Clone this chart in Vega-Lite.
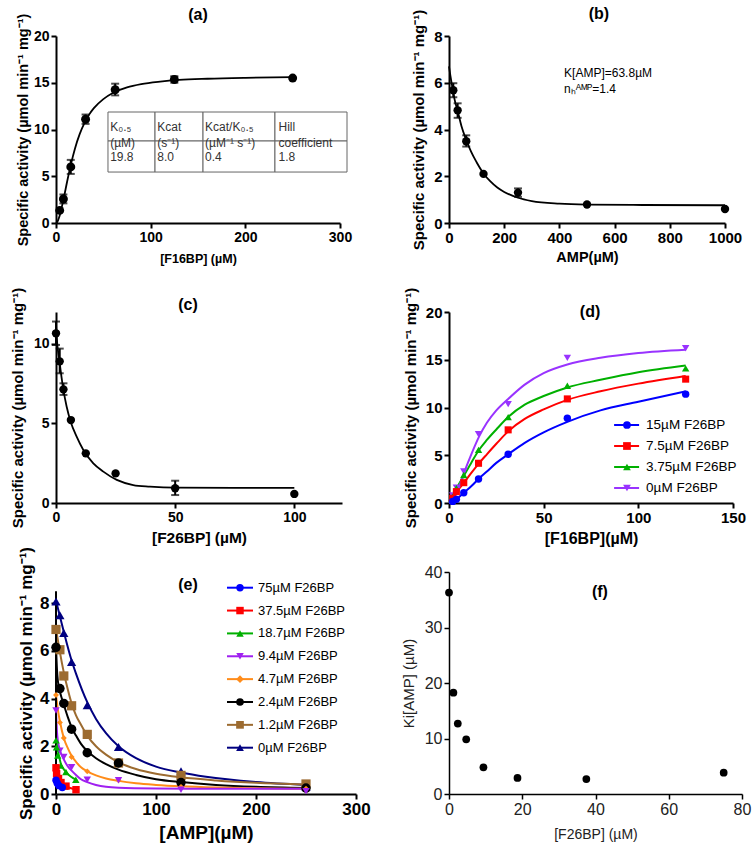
{
  "$schema": "https://vega.github.io/schema/vega-lite/v6.json",
  "autosize": {"type": "none"},
  "padding": {"left": 0, "top": 0, "right": 752, "bottom": 847},
  "background": "white",
  "config": {
    "view": {"stroke": null},
    "font": "Liberation Sans",
    "axis": {"grid": false, "domainColor": "black", "domainWidth": 2, "tickColor": "black", "tickWidth": 2, "tickSize": 5,
      "labelFont": "Liberation Sans", "labelFontWeight": "bold", "labelFontSize": 14, "labelColor": "black", "labelPadding": 2,
      "labelFlush": false, "labelOverlap": false,
      "titleFont": "Liberation Sans", "titleFontWeight": "bold", "titleFontSize": 14, "titleColor": "black", "titlePadding": 6}
  },
  "resolve": {
    "scale": {"color": "independent", "fill": "independent", "stroke": "independent", "shape": "independent", "size": "independent"},
    "legend": {"color": "independent", "fill": "independent", "stroke": "independent", "shape": "independent", "size": "independent"}
  },
  "datasets": {
    "one": [{"k": 1}],
    "a_curve": [{"x":0,"y":0},{"x":1,"y":0.07},{"x":4,"y":0.84},{"x":8,"y":2.57},{"x":12,"y":4.55},{"x":16,"y":6.38},{"x":20,"y":7.95},{"x":25,"y":9.5},{"x":30,"y":10.68},{"x":35,"y":11.59},{"x":40,"y":12.28},{"x":50,"y":13.25},{"x":60,"y":13.9},{"x":75,"y":14.5},{"x":90,"y":14.85},{"x":110,"y":15.12},{"x":130,"y":15.3},{"x":160,"y":15.43},{"x":200,"y":15.53},{"x":250,"y":15.6}],
    "a_pts": [{"x":3.9,"y":1.35},{"x":7.8,"y":2.57},{"x":15.6,"y":6.0},{"x":31.25,"y":11.1},{"x":62.5,"y":14.25},{"x":125,"y":15.35},{"x":250,"y":15.5}],
    "a_err": [{"x":7.8,"lo":2.1,"hi":3.05},{"x":15.6,"lo":5.25,"hi":6.75},{"x":31.25,"lo":10.6,"hi":11.6},{"x":62.5,"lo":13.65,"hi":14.9},{"x":125,"lo":15.0,"hi":15.7}],
    "a_cells": [{"x0":54.9,"x1":104.6,"y0":8.77,"y1":11.87},{"x0":104.6,"x1":155.3,"y0":8.77,"y1":11.87},{"x0":155.3,"x1":231.3,"y0":8.77,"y1":11.87},{"x0":231.3,"x1":307.4,"y0":8.77,"y1":11.87},
      {"x0":54.9,"x1":104.6,"y0":5.45,"y1":8.77},{"x0":104.6,"x1":155.3,"y0":5.45,"y1":8.77},{"x0":155.3,"x1":231.3,"y0":5.45,"y1":8.77},{"x0":231.3,"x1":307.4,"y0":5.45,"y1":8.77}],
    "a_text": [{"x":57.2,"y":10.32,"t":"K₀.₅\n(µM)"},{"x":107,"y":10.32,"t":"Kcat\n(s⁻¹)"},{"x":157.5,"y":10.32,"t":"Kcat/K₀.₅\n(µM⁻¹ s⁻¹)"},{"x":235,"y":10.32,"t":"Hill\ncoefficient"},
      {"x":57.2,"y":7.06,"t":"19.8"},{"x":107,"y":7.06,"t":"8.0"},{"x":157.5,"y":7.06,"t":"0.4"},{"x":235,"y":7.06,"t":"1.8"}],
    "b_curve": [{"x":0,"y":6.7},{"x":5,"y":6.3},{"x":10,"y":5.95},{"x":15.6,"y":5.6},{"x":20,"y":5.3},{"x":31.25,"y":4.8},{"x":45,"y":4.15},{"x":62.5,"y":3.55},{"x":80,"y":3.05},{"x":100,"y":2.6},{"x":125,"y":2.12},{"x":150,"y":1.78},{"x":175,"y":1.52},{"x":200,"y":1.33},{"x":250,"y":1.08},{"x":300,"y":0.94},{"x":400,"y":0.83},{"x":500,"y":0.79},{"x":700,"y":0.77},{"x":1000,"y":0.76}],
    "b_pts": [{"x":15.6,"y":5.68},{"x":31.25,"y":4.82},{"x":62.5,"y":3.5},{"x":125,"y":2.1},{"x":250,"y":1.3},{"x":500,"y":0.79},{"x":1000,"y":0.6}],
    "b_err": [{"x":15.6,"lo":5.38,"hi":5.98},{"x":31.25,"lo":4.5,"hi":5.12},{"x":62.5,"lo":3.27,"hi":3.75},{"x":250,"lo":1.12,"hi":1.48}],
    "b_text": [{"x":417,"y":6.42,"t":"K[AMP]=63.8µM"},{"x":417,"y":5.73,"t":"nₕᴬᴹᴾ=1.4"}],
    "c_curve": [{"x":0,"y":11.25},{"x":0.28,"y":10.45},{"x":1.4,"y":8.98},{"x":3.08,"y":7.14},{"x":4.48,"y":6.05},{"x":6.15,"y":5.11},{"x":8.67,"y":4.17},{"x":11.47,"y":3.33},{"x":15.66,"y":2.49},{"x":19.86,"y":1.97},{"x":25.5,"y":1.45},{"x":32.4,"y":1.13},{"x":39.4,"y":1.03},{"x":50,"y":0.96},{"x":75,"y":0.95},{"x":100,"y":0.95}],
    "c_pts": [{"x":0,"y":10.66},{"x":1.56,"y":8.9},{"x":3.125,"y":7.14},{"x":6.25,"y":5.21},{"x":12.5,"y":3.12},{"x":25,"y":1.86},{"x":50,"y":0.93},{"x":100,"y":0.57}],
    "c_err": [{"x":0,"lo":9.93,"hi":11.4},{"x":1.56,"lo":8.15,"hi":9.7},{"x":3.125,"lo":6.79,"hi":7.52},{"x":50,"lo":0.5,"hi":1.4}],
    "d_leg": [{"s":"15µM F26BP"},{"s":"7.5µM F26BP"},{"s":"3.75µM F26BP"},{"s":"0µM F26BP"}],
    "d_curve": [
      {"s":"15µM F26BP","x":0,"y":0},{"s":"15µM F26BP","x":2,"y":0.1},{"s":"15µM F26BP","x":4,"y":0.4},{"s":"15µM F26BP","x":8,"y":1.1},{"s":"15µM F26BP","x":12,"y":1.8},{"s":"15µM F26BP","x":16,"y":2.6},{"s":"15µM F26BP","x":20,"y":3.3},{"s":"15µM F26BP","x":25,"y":4.2},{"s":"15µM F26BP","x":31.25,"y":5.1},{"s":"15µM F26BP","x":40,"y":6.3},{"s":"15µM F26BP","x":50,"y":7.4},{"s":"15µM F26BP","x":62.5,"y":8.5},{"s":"15µM F26BP","x":80,"y":9.7},{"s":"15µM F26BP","x":100,"y":10.6},{"s":"15µM F26BP","x":125,"y":11.7},
      {"s":"7.5µM F26BP","x":0,"y":0.2},{"s":"7.5µM F26BP","x":2,"y":0.55},{"s":"7.5µM F26BP","x":4,"y":1.15},{"s":"7.5µM F26BP","x":8,"y":2.15},{"s":"7.5µM F26BP","x":12,"y":3.2},{"s":"7.5µM F26BP","x":16,"y":4.2},{"s":"7.5µM F26BP","x":20,"y":5.1},{"s":"7.5µM F26BP","x":25,"y":6.2},{"s":"7.5µM F26BP","x":31.25,"y":7.5},{"s":"7.5µM F26BP","x":40,"y":8.8},{"s":"7.5µM F26BP","x":50,"y":9.8},{"s":"7.5µM F26BP","x":62.5,"y":10.8},{"s":"7.5µM F26BP","x":80,"y":11.7},{"s":"7.5µM F26BP","x":100,"y":12.5},{"s":"7.5µM F26BP","x":125,"y":13.3},
      {"s":"3.75µM F26BP","x":0,"y":0},{"s":"3.75µM F26BP","x":2,"y":0.5},{"s":"3.75µM F26BP","x":4,"y":1.5},{"s":"3.75µM F26BP","x":8,"y":2.9},{"s":"3.75µM F26BP","x":12,"y":4.3},{"s":"3.75µM F26BP","x":16,"y":5.6},{"s":"3.75µM F26BP","x":20,"y":6.6},{"s":"3.75µM F26BP","x":25,"y":7.7},{"s":"3.75µM F26BP","x":31.25,"y":9.0},{"s":"3.75µM F26BP","x":40,"y":10.3},{"s":"3.75µM F26BP","x":50,"y":11.2},{"s":"3.75µM F26BP","x":62.5,"y":12.1},{"s":"3.75µM F26BP","x":80,"y":12.9},{"s":"3.75µM F26BP","x":100,"y":13.7},{"s":"3.75µM F26BP","x":125,"y":14.4},
      {"s":"0µM F26BP","x":0,"y":0},{"s":"0µM F26BP","x":4,"y":1.0},{"s":"0µM F26BP","x":8,"y":3.2},{"s":"0µM F26BP","x":12,"y":5.2},{"s":"0µM F26BP","x":16,"y":7.0},{"s":"0µM F26BP","x":20,"y":8.4},{"s":"0µM F26BP","x":25,"y":9.7},{"s":"0µM F26BP","x":31.25,"y":10.9},{"s":"0µM F26BP","x":40,"y":12.4},{"s":"0µM F26BP","x":50,"y":13.6},{"s":"0µM F26BP","x":62.5,"y":14.5},{"s":"0µM F26BP","x":80,"y":15.2},{"s":"0µM F26BP","x":100,"y":15.7},{"s":"0µM F26BP","x":125,"y":16.05}],
    "d_pts": [
      {"s":"15µM F26BP","x":1.95,"y":0.17},{"s":"15µM F26BP","x":3.9,"y":0.38},{"s":"15µM F26BP","x":7.8,"y":1.08},{"s":"15µM F26BP","x":15.6,"y":2.52},{"s":"15µM F26BP","x":31.25,"y":5.1},{"s":"15µM F26BP","x":62.5,"y":8.88},{"s":"15µM F26BP","x":125,"y":11.4},
      {"s":"7.5µM F26BP","x":1.95,"y":0.49},{"s":"7.5µM F26BP","x":3.9,"y":1.19},{"s":"7.5µM F26BP","x":7.8,"y":2.13},{"s":"7.5µM F26BP","x":15.6,"y":4.16},{"s":"7.5µM F26BP","x":31.25,"y":7.66},{"s":"7.5µM F26BP","x":62.5,"y":10.9},{"s":"7.5µM F26BP","x":125,"y":12.97},
      {"s":"3.75µM F26BP","x":1.95,"y":0.66},{"s":"3.75µM F26BP","x":3.9,"y":1.54},{"s":"3.75µM F26BP","x":7.8,"y":2.94},{"s":"3.75µM F26BP","x":15.6,"y":5.56},{"s":"3.75µM F26BP","x":31.25,"y":8.99},{"s":"3.75µM F26BP","x":62.5,"y":12.27},{"s":"3.75µM F26BP","x":125,"y":14.1},
      {"s":"0µM F26BP","x":1.95,"y":0.8},{"s":"0µM F26BP","x":3.9,"y":1.6},{"s":"0µM F26BP","x":7.8,"y":3.3},{"s":"0µM F26BP","x":15.6,"y":7.2},{"s":"0µM F26BP","x":31.25,"y":10.35},{"s":"0µM F26BP","x":62.5,"y":15.2},{"s":"0µM F26BP","x":125,"y":16.2}],
    "e_leg": [{"s":"75µM F26BP"},{"s":"37.5µM F26BP"},{"s":"18.7µM F26BP"},{"s":"9.4µM F26BP"},{"s":"4.7µM F26BP"},{"s":"2.4µM F26BP"},{"s":"1.2µM F26BP"},{"s":"0µM F26BP"}],
    "e_curve": [
      {"s":"0µM F26BP","x":0,"y":8.1},{"s":"0µM F26BP","x":3.9,"y":7.45},{"s":"0µM F26BP","x":7.8,"y":6.8},{"s":"0µM F26BP","x":15.6,"y":5.6},{"s":"0µM F26BP","x":20,"y":5.05},{"s":"0µM F26BP","x":31.25,"y":3.85},{"s":"0µM F26BP","x":40,"y":3.15},{"s":"0µM F26BP","x":50,"y":2.55},{"s":"0µM F26BP","x":62.5,"y":2.0},{"s":"0µM F26BP","x":80,"y":1.5},{"s":"0µM F26BP","x":100,"y":1.15},{"s":"0µM F26BP","x":125,"y":0.9},{"s":"0µM F26BP","x":150,"y":0.72},{"s":"0µM F26BP","x":200,"y":0.5},{"s":"0µM F26BP","x":250,"y":0.38},
      {"s":"1.2µM F26BP","x":0,"y":6.95},{"s":"1.2µM F26BP","x":3.9,"y":5.95},{"s":"1.2µM F26BP","x":7.8,"y":5.1},{"s":"1.2µM F26BP","x":12,"y":4.35},{"s":"1.2µM F26BP","x":15.6,"y":3.8},{"s":"1.2µM F26BP","x":20,"y":3.3},{"s":"1.2µM F26BP","x":25,"y":2.9},{"s":"1.2µM F26BP","x":31.25,"y":2.45},{"s":"1.2µM F26BP","x":40,"y":2.0},{"s":"1.2µM F26BP","x":50,"y":1.65},{"s":"1.2µM F26BP","x":62.5,"y":1.33},{"s":"1.2µM F26BP","x":80,"y":1.05},{"s":"1.2µM F26BP","x":100,"y":0.85},{"s":"1.2µM F26BP","x":125,"y":0.7},{"s":"1.2µM F26BP","x":160,"y":0.57},{"s":"1.2µM F26BP","x":200,"y":0.47},{"s":"1.2µM F26BP","x":250,"y":0.4},
      {"s":"2.4µM F26BP","x":0,"y":6.2},{"s":"2.4µM F26BP","x":1,"y":5.2},{"s":"2.4µM F26BP","x":2,"y":4.7},{"s":"2.4µM F26BP","x":3.9,"y":4.3},{"s":"2.4µM F26BP","x":7.8,"y":3.75},{"s":"2.4µM F26BP","x":12,"y":3.2},{"s":"2.4µM F26BP","x":15.6,"y":2.8},{"s":"2.4µM F26BP","x":20,"y":2.45},{"s":"2.4µM F26BP","x":25,"y":2.1},{"s":"2.4µM F26BP","x":31.25,"y":1.8},{"s":"2.4µM F26BP","x":40,"y":1.5},{"s":"2.4µM F26BP","x":50,"y":1.25},{"s":"2.4µM F26BP","x":62.5,"y":1.02},{"s":"2.4µM F26BP","x":80,"y":0.8},{"s":"2.4µM F26BP","x":100,"y":0.62},{"s":"2.4µM F26BP","x":125,"y":0.5},{"s":"2.4µM F26BP","x":160,"y":0.38},{"s":"2.4µM F26BP","x":200,"y":0.3},{"s":"2.4µM F26BP","x":250,"y":0.25},
      {"s":"4.7µM F26BP","x":0,"y":4.15},{"s":"4.7µM F26BP","x":2,"y":3.5},{"s":"4.7µM F26BP","x":3.9,"y":3.05},{"s":"4.7µM F26BP","x":7.8,"y":2.35},{"s":"4.7µM F26BP","x":12,"y":1.9},{"s":"4.7µM F26BP","x":15.6,"y":1.6},{"s":"4.7µM F26BP","x":20,"y":1.35},{"s":"4.7µM F26BP","x":25,"y":1.12},{"s":"4.7µM F26BP","x":31.25,"y":0.95},{"s":"4.7µM F26BP","x":40,"y":0.78},{"s":"4.7µM F26BP","x":50,"y":0.65},{"s":"4.7µM F26BP","x":62.5,"y":0.55},{"s":"4.7µM F26BP","x":80,"y":0.45},{"s":"4.7µM F26BP","x":100,"y":0.38},{"s":"4.7µM F26BP","x":125,"y":0.32},{"s":"4.7µM F26BP","x":160,"y":0.27},{"s":"4.7µM F26BP","x":200,"y":0.24},{"s":"4.7µM F26BP","x":250,"y":0.22},
      {"s":"9.4µM F26BP","x":0,"y":3.5},{"s":"9.4µM F26BP","x":1,"y":2.6},{"s":"9.4µM F26BP","x":2,"y":2.2},{"s":"9.4µM F26BP","x":3.9,"y":1.85},{"s":"9.4µM F26BP","x":7.8,"y":1.45},{"s":"9.4µM F26BP","x":12,"y":1.15},{"s":"9.4µM F26BP","x":15.6,"y":0.98},{"s":"9.4µM F26BP","x":20,"y":0.8},{"s":"9.4µM F26BP","x":25,"y":0.62},{"s":"9.4µM F26BP","x":31.25,"y":0.5},{"s":"9.4µM F26BP","x":40,"y":0.38},{"s":"9.4µM F26BP","x":50,"y":0.3},{"s":"9.4µM F26BP","x":62.5,"y":0.26},{"s":"9.4µM F26BP","x":100,"y":0.23},{"s":"9.4µM F26BP","x":150,"y":0.22},{"s":"9.4µM F26BP","x":250,"y":0.22},
      {"s":"18.7µM F26BP","x":0,"y":2.3},{"s":"18.7µM F26BP","x":1.25,"y":1.95},{"s":"18.7µM F26BP","x":2.5,"y":1.7},{"s":"18.7µM F26BP","x":5,"y":1.25},{"s":"18.7µM F26BP","x":10,"y":0.92},{"s":"18.7µM F26BP","x":15,"y":0.72},{"s":"18.7µM F26BP","x":21,"y":0.58},
      {"s":"37.5µM F26BP","x":0,"y":1.1},{"s":"37.5µM F26BP","x":1,"y":0.88},{"s":"37.5µM F26BP","x":2.5,"y":0.7},{"s":"37.5µM F26BP","x":5,"y":0.5},{"s":"37.5µM F26BP","x":10,"y":0.33},{"s":"37.5µM F26BP","x":20,"y":0.2},
      {"s":"75µM F26BP","x":0,"y":0.6},{"s":"75µM F26BP","x":1.25,"y":0.47},{"s":"75µM F26BP","x":3,"y":0.36},{"s":"75µM F26BP","x":6.3,"y":0.28},{"s":"75µM F26BP","x":12,"y":0.22}],
    "e_pts": [
      {"s":"0µM F26BP","x":0,"y":8.07},{"s":"0µM F26BP","x":3.9,"y":7.5},{"s":"0µM F26BP","x":7.8,"y":6.75},{"s":"0µM F26BP","x":15.6,"y":5.54},{"s":"0µM F26BP","x":31.25,"y":3.72},{"s":"0µM F26BP","x":62.5,"y":1.97},{"s":"0µM F26BP","x":125,"y":0.95},{"s":"0µM F26BP","x":250,"y":0.3},
      {"s":"1.2µM F26BP","x":0,"y":6.9},{"s":"1.2µM F26BP","x":3.9,"y":6.05},{"s":"1.2µM F26BP","x":7.8,"y":4.95},{"s":"1.2µM F26BP","x":15.6,"y":3.7},{"s":"1.2µM F26BP","x":31.25,"y":2.5},{"s":"1.2µM F26BP","x":62.5,"y":1.3},{"s":"1.2µM F26BP","x":125,"y":0.78},{"s":"1.2µM F26BP","x":250,"y":0.42},
      {"s":"2.4µM F26BP","x":0,"y":6.15},{"s":"2.4µM F26BP","x":3.9,"y":4.42},{"s":"2.4µM F26BP","x":7.8,"y":3.8},{"s":"2.4µM F26BP","x":15.6,"y":2.72},{"s":"2.4µM F26BP","x":31.25,"y":1.73},{"s":"2.4µM F26BP","x":62.5,"y":1.3},{"s":"2.4µM F26BP","x":125,"y":0.48},{"s":"2.4µM F26BP","x":250,"y":0.25},
      {"s":"4.7µM F26BP","x":0,"y":4.15},{"s":"4.7µM F26BP","x":3.9,"y":3.0},{"s":"4.7µM F26BP","x":7.8,"y":2.35},{"s":"4.7µM F26BP","x":15.6,"y":1.55},{"s":"4.7µM F26BP","x":31.25,"y":0.95},{"s":"4.7µM F26BP","x":62.5,"y":0.58},{"s":"4.7µM F26BP","x":125,"y":0.3},{"s":"4.7µM F26BP","x":250,"y":0.22},
      {"s":"9.4µM F26BP","x":0,"y":3.5},{"s":"9.4µM F26BP","x":3.9,"y":1.82},{"s":"9.4µM F26BP","x":7.8,"y":1.55},{"s":"9.4µM F26BP","x":15.6,"y":1.12},{"s":"9.4µM F26BP","x":31.25,"y":0.6},{"s":"9.4µM F26BP","x":62.5,"y":0.58},{"s":"9.4µM F26BP","x":125,"y":0.18},{"s":"9.4µM F26BP","x":250,"y":0.12},
      {"s":"18.7µM F26BP","x":0,"y":2.25},{"s":"18.7µM F26BP","x":0.5,"y":1.96},{"s":"18.7µM F26BP","x":1.7,"y":1.61},{"s":"18.7µM F26BP","x":4.9,"y":1.19},{"s":"18.7µM F26BP","x":9.9,"y":0.92},{"s":"18.7µM F26BP","x":19.8,"y":0.6},
      {"s":"37.5µM F26BP","x":0,"y":1.1},{"s":"37.5µM F26BP","x":0.6,"y":0.85},{"s":"37.5µM F26BP","x":2.5,"y":0.65},{"s":"37.5µM F26BP","x":5,"y":0.48},{"s":"37.5µM F26BP","x":10,"y":0.33},{"s":"37.5µM F26BP","x":20,"y":0.18},
      {"s":"75µM F26BP","x":0,"y":0.58},{"s":"75µM F26BP","x":1.25,"y":0.45},{"s":"75µM F26BP","x":3,"y":0.35},{"s":"75µM F26BP","x":6.3,"y":0.27}],
    "f_pts": [{"x":0,"y":36.3},{"x":1.2,"y":18.26},{"x":2.4,"y":12.7},{"x":4.7,"y":9.85},{"x":9.4,"y":4.8},{"x":18.7,"y":2.9},{"x":37.5,"y":2.7},{"x":75,"y":3.84}]
  },
  "columns": 4,
  "align": "each",
  "spacing": 0,
  "bounds": "flush",
  "concat": [
    {"width": 56, "height": 1, "data": {"values": []}, "mark": {"type": "point", "opacity": 0}},
    {"width": 1, "height": 36, "data": {"values": []}, "mark": {"type": "point", "opacity": 0}},
    {"width": 93, "height": 1, "data": {"values": []}, "mark": {"type": "point", "opacity": 0}},
    {"width": 1, "height": 36, "data": {"values": []}, "mark": {"type": "point", "opacity": 0}},

    {"width": 56, "height": 1, "data": {"values": []}, "mark": {"type": "point", "opacity": 0}},
    {
      "width": 284, "height": 187,
      "layer": [
        {"data": {"name": "a_curve"}, "mark": {"type": "line", "color": "black", "strokeWidth": 1.8, "interpolate": "monotone"},
         "encoding": {
           "x": {"field": "x", "type": "quantitative", "scale": {"domain": [0, 300], "nice": false}, "axis": {"values": [0, 100, 200, 300], "title": "[F16BP] (µM)", "labelFontSize": 14, "titleFontSize": 12.5, "titlePadding": 8}},
           "y": {"field": "y", "type": "quantitative", "scale": {"domain": [0, 20], "nice": false}, "axis": {"values": [0, 5, 10, 15, 20], "title": "Specific activity (µmol min⁻¹ mg⁻¹)", "labelFontSize": 14, "titleFontSize": 14.5, "titlePadding": 3}}}},
        {"data": {"name": "a_err"}, "mark": {"type": "errorbar", "color": "black", "thickness": 2, "ticks": {"size": 8, "thickness": 2, "color": "black"}},
         "encoding": {"x": {"field": "x", "type": "quantitative", "title": "[F16BP] (µM)"}, "y": {"field": "lo", "type": "quantitative", "title": "Specific activity (µmol min⁻¹ mg⁻¹)"}, "y2": {"field": "hi"}}},
        {"data": {"name": "a_pts"}, "mark": {"type": "point", "filled": true, "color": "black", "opacity": 1, "size": 80},
         "encoding": {"x": {"field": "x", "type": "quantitative"}, "y": {"field": "y", "type": "quantitative"}}},
        {"data": {"name": "a_cells"}, "mark": {"type": "rect", "fill": "white", "stroke": "#666666", "strokeWidth": 1},
         "encoding": {"x": {"field": "x0", "type": "quantitative", "title": "[F16BP] (µM)"}, "x2": {"field": "x1"}, "y": {"field": "y0", "type": "quantitative", "title": "Specific activity (µmol min⁻¹ mg⁻¹)"}, "y2": {"field": "y1"}}},
        {"data": {"name": "a_text"}, "mark": {"type": "text", "align": "left", "baseline": "middle", "font": "Liberation Sans", "fontSize": 12, "color": "#333333", "lineBreak": "\n", "lineHeight": 16},
         "encoding": {"x": {"field": "x", "type": "quantitative"}, "y": {"field": "y", "type": "quantitative"}, "text": {"field": "t"}}},
        {"data": {"name": "one"}, "mark": {"type": "text", "text": "(a)", "font": "Liberation Sans", "fontSize": 16, "fontWeight": "bold", "align": "center", "baseline": "alphabetic", "color": "black"},
         "encoding": {"x": {"datum": 150}, "y": {"datum": 21.76}}}
      ]
    },
    {"width": 93, "height": 1, "data": {"values": []}, "mark": {"type": "point", "opacity": 0}},
    {
      "width": 276, "height": 187,
      "layer": [
        {"data": {"name": "b_curve"}, "mark": {"type": "line", "color": "black", "strokeWidth": 1.8, "interpolate": "monotone"},
         "encoding": {
           "x": {"field": "x", "type": "quantitative", "scale": {"domain": [0, 1000], "nice": false}, "axis": {"values": [0, 200, 400, 600, 800, 1000], "format": "d", "title": "AMP(µM)", "labelFontSize": 15, "titleFontSize": 14.5, "titlePadding": 5}},
           "y": {"field": "y", "type": "quantitative", "scale": {"domain": [0, 8], "nice": false}, "axis": {"values": [0, 2, 4, 6, 8], "title": "Specific activity (µmol min⁻¹ mg⁻¹)", "labelFontSize": 15, "titleFontSize": 15, "titlePadding": 7}}}},
        {"data": {"name": "b_err"}, "mark": {"type": "errorbar", "color": "black", "thickness": 2, "ticks": {"size": 8, "thickness": 2, "color": "black"}},
         "encoding": {"x": {"field": "x", "type": "quantitative", "title": "AMP(µM)"}, "y": {"field": "lo", "type": "quantitative", "title": "Specific activity (µmol min⁻¹ mg⁻¹)"}, "y2": {"field": "hi"}}},
        {"data": {"name": "b_pts"}, "mark": {"type": "point", "filled": true, "color": "black", "opacity": 1, "size": 70},
         "encoding": {"x": {"field": "x", "type": "quantitative"}, "y": {"field": "y", "type": "quantitative"}}},
        {"data": {"name": "b_text"}, "mark": {"type": "text", "align": "left", "baseline": "middle", "font": "Liberation Sans", "fontSize": 12, "color": "black"},
         "encoding": {"x": {"field": "x", "type": "quantitative"}, "y": {"field": "y", "type": "quantitative"}, "text": {"field": "t"}}},
        {"data": {"name": "one"}, "mark": {"type": "text", "text": "(b)", "font": "Liberation Sans", "fontSize": 16, "fontWeight": "bold", "align": "center", "baseline": "alphabetic", "color": "black"},
         "encoding": {"x": {"datum": 543}, "y": {"datum": 8.71}}}
      ]
    },

    {"width": 56, "height": 1, "data": {"values": []}, "mark": {"type": "point", "opacity": 0}},
    {"width": 1, "height": 89, "data": {"values": []}, "mark": {"type": "point", "opacity": 0}},
    {"width": 93, "height": 1, "data": {"values": []}, "mark": {"type": "point", "opacity": 0}},
    {"width": 1, "height": 89, "data": {"values": []}, "mark": {"type": "point", "opacity": 0}},

    {"width": 56, "height": 1, "data": {"values": []}, "mark": {"type": "point", "opacity": 0}},
    {
      "width": 286, "height": 191,
      "layer": [
        {"data": {"name": "c_curve"}, "mark": {"type": "line", "color": "black", "strokeWidth": 1.8, "interpolate": "monotone"},
         "encoding": {
           "x": {"field": "x", "type": "quantitative", "scale": {"domain": [0, 120], "nice": false}, "axis": {"values": [0, 50, 100], "title": "[F26BP] (µM)", "labelFontSize": 14, "titleFontSize": 15.5, "titlePadding": 6}},
           "y": {"field": "y", "type": "quantitative", "scale": {"domain": [0, 12], "nice": false}, "axis": {"values": [0, 5, 10], "title": "Specific activity (µmol min⁻¹ mg⁻¹)", "labelFontSize": 14, "titleFontSize": 15, "titlePadding": 8}}}},
        {"data": {"name": "c_err"}, "mark": {"type": "errorbar", "color": "black", "thickness": 2, "ticks": {"size": 8, "thickness": 2, "color": "black"}},
         "encoding": {"x": {"field": "x", "type": "quantitative", "title": "[F26BP] (µM)"}, "y": {"field": "lo", "type": "quantitative", "title": "Specific activity (µmol min⁻¹ mg⁻¹)"}, "y2": {"field": "hi"}}},
        {"data": {"name": "c_pts"}, "mark": {"type": "point", "filled": true, "color": "black", "opacity": 1, "size": 70},
         "encoding": {"x": {"field": "x", "type": "quantitative"}, "y": {"field": "y", "type": "quantitative"}}},
        {"data": {"name": "one"}, "mark": {"type": "text", "text": "(c)", "font": "Liberation Sans", "fontSize": 16, "fontWeight": "bold", "align": "center", "baseline": "alphabetic", "color": "black"},
         "encoding": {"x": {"datum": 55.4}, "y": {"datum": 12.13}}}
      ]
    },
    {"width": 93, "height": 1, "data": {"values": []}, "mark": {"type": "point", "opacity": 0}},
    {
      "width": 284, "height": 191,
      "resolve": {"scale": {"y": "independent"}, "axis": {"y": "independent"}},
      "layer": [
        {"data": {"name": "d_curve"}, "mark": {"type": "line", "strokeWidth": 2, "interpolate": "monotone"},
         "encoding": {
           "x": {"field": "x", "type": "quantitative", "scale": {"domain": [0, 150], "nice": false}, "axis": {"values": [0, 50, 100, 150], "title": "[F16BP](µM)", "labelFontSize": 15, "titleFontSize": 16, "titlePadding": 5}},
           "y": {"field": "y", "type": "quantitative", "scale": {"domain": [0, 20], "nice": false}, "axis": {"values": [0, 5, 10, 15, 20], "title": "Specific activity (µmol min⁻¹ mg⁻¹)", "labelFontSize": 15, "titleFontSize": 15, "titlePadding": 7}},
           "color": {"field": "s", "type": "nominal", "scale": {"domain": ["15µM F26BP", "7.5µM F26BP", "3.75µM F26BP", "0µM F26BP"], "range": ["#0000ff", "#ff0000", "#00b000", "#9933ff"]}, "legend": null},
           "detail": {"field": "s"}}},
        {"data": {"name": "d_pts"}, "transform": [{"filter": "datum.s == '0µM F26BP'"}], "mark": {"type": "point", "filled": true, "opacity": 1, "shape": "triangle-down", "size": 55},
         "encoding": {"x": {"field": "x", "type": "quantitative"}, "y": {"field": "y", "type": "quantitative", "scale": {"domain": [0, 20], "nice": false}, "axis": null}, "color": {"field": "s", "type": "nominal", "legend": null}}},
        {"data": {"name": "d_pts"}, "transform": [{"filter": "datum.s == '3.75µM F26BP'"}], "mark": {"type": "point", "filled": true, "opacity": 1, "shape": "triangle-up", "size": 55},
         "encoding": {"x": {"field": "x", "type": "quantitative"}, "y": {"field": "y", "type": "quantitative", "scale": {"domain": [0, 20], "nice": false}, "axis": null}, "color": {"field": "s", "type": "nominal", "legend": null}}},
        {"data": {"name": "d_pts"}, "transform": [{"filter": "datum.s == '7.5µM F26BP'"}], "mark": {"type": "point", "filled": true, "opacity": 1, "shape": "square", "size": 50},
         "encoding": {"x": {"field": "x", "type": "quantitative"}, "y": {"field": "y", "type": "quantitative", "scale": {"domain": [0, 20], "nice": false}, "axis": null}, "color": {"field": "s", "type": "nominal", "legend": null}}},
        {"data": {"name": "d_pts"}, "transform": [{"filter": "datum.s == '15µM F26BP'"}], "mark": {"type": "point", "filled": true, "opacity": 1, "shape": "circle", "size": 55},
         "encoding": {"x": {"field": "x", "type": "quantitative"}, "y": {"field": "y", "type": "quantitative", "scale": {"domain": [0, 20], "nice": false}, "axis": null}, "color": {"field": "s", "type": "nominal", "legend": null}}},
        {"data": {"name": "one"}, "mark": {"type": "text", "text": "(d)", "font": "Liberation Sans", "fontSize": 16, "fontWeight": "bold", "align": "center", "baseline": "alphabetic", "color": "black"},
         "encoding": {"x": {"datum": 74.5}, "y": {"datum": 19.48, "type": "quantitative", "scale": {"domain": [0, 20], "nice": false}, "axis": null}}},
        {"data": {"name": "d_leg"}, "mark": {"type": "rule", "strokeWidth": 2},
         "encoding": {"x": {"datum": 87.2}, "x2": {"datum": 100.4},
           "y": {"field": "s", "type": "nominal", "scale": {"type": "point", "domain": ["15µM F26BP", "7.5µM F26BP", "3.75µM F26BP", "0µM F26BP"], "range": [113, 176], "padding": 0}, "axis": null},
           "color": {"field": "s", "type": "nominal", "legend": null}}},
        {"data": {"name": "d_leg"}, "mark": {"type": "point", "filled": true, "opacity": 1, "size": 60},
         "encoding": {"x": {"datum": 94},
           "y": {"field": "s", "type": "nominal", "scale": {"type": "point", "domain": ["15µM F26BP", "7.5µM F26BP", "3.75µM F26BP", "0µM F26BP"], "range": [113, 176], "padding": 0}, "axis": null},
           "shape": {"field": "s", "type": "nominal", "scale": {"domain": ["15µM F26BP", "7.5µM F26BP", "3.75µM F26BP", "0µM F26BP"], "range": ["circle", "square", "triangle-up", "triangle-down"]}, "legend": null},
           "color": {"field": "s", "type": "nominal", "legend": null}}},
        {"data": {"name": "d_leg"}, "mark": {"type": "text", "align": "left", "baseline": "middle", "font": "Liberation Sans", "fontSize": 13.5, "color": "black"},
         "encoding": {"x": {"datum": 104.1},
           "y": {"field": "s", "type": "nominal", "scale": {"type": "point", "domain": ["15µM F26BP", "7.5µM F26BP", "3.75µM F26BP", "0µM F26BP"], "range": [113, 176], "padding": 0}, "axis": null},
           "text": {"field": "s"}}}
      ]
    },

    {"width": 56, "height": 1, "data": {"values": []}, "mark": {"type": "point", "opacity": 0}},
    {"width": 1, "height": 69, "data": {"values": []}, "mark": {"type": "point", "opacity": 0}},
    {"width": 93, "height": 1, "data": {"values": []}, "mark": {"type": "point", "opacity": 0}},
    {"width": 1, "height": 69, "data": {"values": []}, "mark": {"type": "point", "opacity": 0}},

    {"width": 56, "height": 1, "data": {"values": []}, "mark": {"type": "point", "opacity": 0}},
    {
      "width": 300, "height": 222,
      "resolve": {"scale": {"y": "independent"}, "axis": {"y": "independent"}},
      "layer": [
        {"data": {"name": "e_curve"}, "mark": {"type": "line", "strokeWidth": 2, "interpolate": "monotone"},
         "encoding": {
           "x": {"field": "x", "type": "quantitative", "scale": {"domain": [0, 300], "nice": false}, "axis": {"values": [0, 100, 200, 300], "title": "[AMP](µM)", "labelFontSize": 17, "titleFontSize": 19, "titlePadding": 6}},
           "y": {"field": "y", "type": "quantitative", "scale": {"domain": [0, 9.31], "nice": false}, "axis": {"values": [0, 2, 4, 6, 8], "domain": false, "title": "Specific activity (µmol min⁻¹ mg⁻¹)", "labelFontSize": 17, "titleFontSize": 17, "titlePadding": 4}},
           "color": {"field": "s", "type": "nominal", "scale": {"domain": ["75µM F26BP", "37.5µM F26BP", "18.7µM F26BP", "9.4µM F26BP", "4.7µM F26BP", "2.4µM F26BP", "1.2µM F26BP", "0µM F26BP"], "range": ["#0000ff", "#ff0000", "#00b000", "#a020f0", "#ff8c1a", "#000000", "#9c6b30", "#000080"]}, "legend": null},
           "detail": {"field": "s"}}},
        {"data": {"name": "one"}, "mark": {"type": "rule", "color": "black", "strokeWidth": 2},
         "encoding": {"x": {"datum": 0}, "y": {"datum": 0, "type": "quantitative", "scale": {"domain": [0, 9.31], "nice": false}, "axis": null}, "y2": {"datum": 8.5}}},
        {"data": {"name": "e_pts"}, "transform": [{"filter": "datum.s == '0µM F26BP'"}], "mark": {"type": "point", "filled": true, "opacity": 1, "shape": "triangle-up", "size": 85},
         "encoding": {"x": {"field": "x", "type": "quantitative"}, "y": {"field": "y", "type": "quantitative", "scale": {"domain": [0, 9.31], "nice": false}, "axis": null}, "color": {"field": "s", "type": "nominal", "legend": null}}},
        {"data": {"name": "e_pts"}, "transform": [{"filter": "datum.s == '1.2µM F26BP'"}], "mark": {"type": "point", "filled": true, "opacity": 1, "shape": "square", "size": 85},
         "encoding": {"x": {"field": "x", "type": "quantitative"}, "y": {"field": "y", "type": "quantitative", "scale": {"domain": [0, 9.31], "nice": false}, "axis": null}, "color": {"field": "s", "type": "nominal", "legend": null}}},
        {"data": {"name": "e_pts"}, "transform": [{"filter": "datum.s == '2.4µM F26BP'"}], "mark": {"type": "point", "filled": true, "opacity": 1, "shape": "circle", "size": 90},
         "encoding": {"x": {"field": "x", "type": "quantitative"}, "y": {"field": "y", "type": "quantitative", "scale": {"domain": [0, 9.31], "nice": false}, "axis": null}, "color": {"field": "s", "type": "nominal", "legend": null}}},
        {"data": {"name": "e_pts"}, "transform": [{"filter": "datum.s == '4.7µM F26BP'"}], "mark": {"type": "point", "filled": true, "opacity": 1, "shape": "diamond", "size": 35},
         "encoding": {"x": {"field": "x", "type": "quantitative"}, "y": {"field": "y", "type": "quantitative", "scale": {"domain": [0, 9.31], "nice": false}, "axis": null}, "color": {"field": "s", "type": "nominal", "legend": null}}},
        {"data": {"name": "e_pts"}, "transform": [{"filter": "datum.s == '9.4µM F26BP'"}], "mark": {"type": "point", "filled": true, "opacity": 1, "shape": "triangle-down", "size": 55},
         "encoding": {"x": {"field": "x", "type": "quantitative"}, "y": {"field": "y", "type": "quantitative", "scale": {"domain": [0, 9.31], "nice": false}, "axis": null}, "color": {"field": "s", "type": "nominal", "legend": null}}},
        {"data": {"name": "e_pts"}, "transform": [{"filter": "datum.s == '18.7µM F26BP'"}], "mark": {"type": "point", "filled": true, "opacity": 1, "shape": "triangle-up", "size": 55},
         "encoding": {"x": {"field": "x", "type": "quantitative"}, "y": {"field": "y", "type": "quantitative", "scale": {"domain": [0, 9.31], "nice": false}, "axis": null}, "color": {"field": "s", "type": "nominal", "legend": null}}},
        {"data": {"name": "e_pts"}, "transform": [{"filter": "datum.s == '37.5µM F26BP'"}], "mark": {"type": "point", "filled": true, "opacity": 1, "shape": "square", "size": 55},
         "encoding": {"x": {"field": "x", "type": "quantitative"}, "y": {"field": "y", "type": "quantitative", "scale": {"domain": [0, 9.31], "nice": false}, "axis": null}, "color": {"field": "s", "type": "nominal", "legend": null}}},
        {"data": {"name": "e_pts"}, "transform": [{"filter": "datum.s == '75µM F26BP'"}], "mark": {"type": "point", "filled": true, "opacity": 1, "shape": "circle", "size": 55},
         "encoding": {"x": {"field": "x", "type": "quantitative"}, "y": {"field": "y", "type": "quantitative", "scale": {"domain": [0, 9.31], "nice": false}, "axis": null}, "color": {"field": "s", "type": "nominal", "legend": null}}},
        {"data": {"name": "one"}, "mark": {"type": "text", "text": "(e)", "font": "Liberation Sans", "fontSize": 16, "fontWeight": "bold", "align": "center", "baseline": "alphabetic", "color": "black"},
         "encoding": {"x": {"datum": 132}, "y": {"datum": 8.56, "type": "quantitative", "scale": {"domain": [0, 9.31], "nice": false}, "axis": null}}},
        {"data": {"name": "e_leg"}, "mark": {"type": "rule", "strokeWidth": 2},
         "encoding": {"x": {"datum": 171}, "x2": {"datum": 197},
           "y": {"field": "s", "type": "nominal", "scale": {"type": "point", "domain": ["75µM F26BP", "37.5µM F26BP", "18.7µM F26BP", "9.4µM F26BP", "4.7µM F26BP", "2.4µM F26BP", "1.2µM F26BP", "0µM F26BP"], "range": [15.7, 175.7], "padding": 0}, "axis": null},
           "color": {"field": "s", "type": "nominal", "legend": null}}},
        {"data": {"name": "e_leg"}, "mark": {"type": "point", "filled": true, "opacity": 1},
         "encoding": {"x": {"datum": 184},
           "y": {"field": "s", "type": "nominal", "scale": {"type": "point", "domain": ["75µM F26BP", "37.5µM F26BP", "18.7µM F26BP", "9.4µM F26BP", "4.7µM F26BP", "2.4µM F26BP", "1.2µM F26BP", "0µM F26BP"], "range": [15.7, 175.7], "padding": 0}, "axis": null},
           "shape": {"field": "s", "type": "nominal", "scale": {"domain": ["75µM F26BP", "37.5µM F26BP", "18.7µM F26BP", "9.4µM F26BP", "4.7µM F26BP", "2.4µM F26BP", "1.2µM F26BP", "0µM F26BP"], "range": ["circle", "square", "triangle-up", "triangle-down", "diamond", "circle", "square", "triangle-up"]}, "legend": null},
           "size": {"field": "s", "type": "nominal", "scale": {"domain": ["75µM F26BP", "37.5µM F26BP", "18.7µM F26BP", "9.4µM F26BP", "4.7µM F26BP", "2.4µM F26BP", "1.2µM F26BP", "0µM F26BP"], "range": [55, 60, 60, 60, 40, 110, 100, 100]}, "legend": null},
           "color": {"field": "s", "type": "nominal", "legend": null}}},
        {"data": {"name": "e_leg"}, "mark": {"type": "text", "align": "left", "baseline": "middle", "font": "Liberation Sans", "fontSize": 13, "color": "black"},
         "encoding": {"x": {"datum": 202},
           "y": {"field": "s", "type": "nominal", "scale": {"type": "point", "domain": ["75µM F26BP", "37.5µM F26BP", "18.7µM F26BP", "9.4µM F26BP", "4.7µM F26BP", "2.4µM F26BP", "1.2µM F26BP", "0µM F26BP"], "range": [15.7, 175.7], "padding": 0}, "axis": null},
           "text": {"field": "s"}}}
      ]
    },
    {"width": 93, "height": 1, "data": {"values": []}, "mark": {"type": "point", "opacity": 0}},
    {
      "width": 293, "height": 222,
      "layer": [
        {"data": {"name": "f_pts"}, "mark": {"type": "point", "filled": true, "color": "black", "opacity": 1, "size": 60},
         "encoding": {
           "x": {"field": "x", "type": "quantitative", "scale": {"domain": [0, 80], "nice": false}, "axis": {"values": [0, 20, 40, 60, 80], "title": "[F26BP] (µM)", "labelFontWeight": "normal", "titleFontWeight": "normal", "labelFontSize": 16, "titleFontSize": 14, "domainWidth": 1.5, "tickWidth": 1.5, "labelColor": "#222222", "titleColor": "#222222", "titlePadding": 10}},
           "y": {"field": "y", "type": "quantitative", "scale": {"domain": [0, 40], "nice": false}, "axis": {"values": [0, 5, 10, 15, 20, 25, 30, 35, 40], "title": "Ki[AMP] (µM)", "labelFontWeight": "normal", "titleFontWeight": "normal", "labelFontSize": 16, "titleFontSize": 15, "domainWidth": 1.5, "tickWidth": 1.5, "labelColor": "#222222", "titleColor": "#222222", "titlePadding": 8}}}},
        {"data": {"name": "one"}, "mark": {"type": "text", "text": "(f)", "font": "Liberation Sans", "fontSize": 16, "fontWeight": "bold", "align": "center", "baseline": "alphabetic", "color": "black"},
         "encoding": {"x": {"datum": 41.2}, "y": {"datum": 35.5}}}
      ]
    }
  ]
}
